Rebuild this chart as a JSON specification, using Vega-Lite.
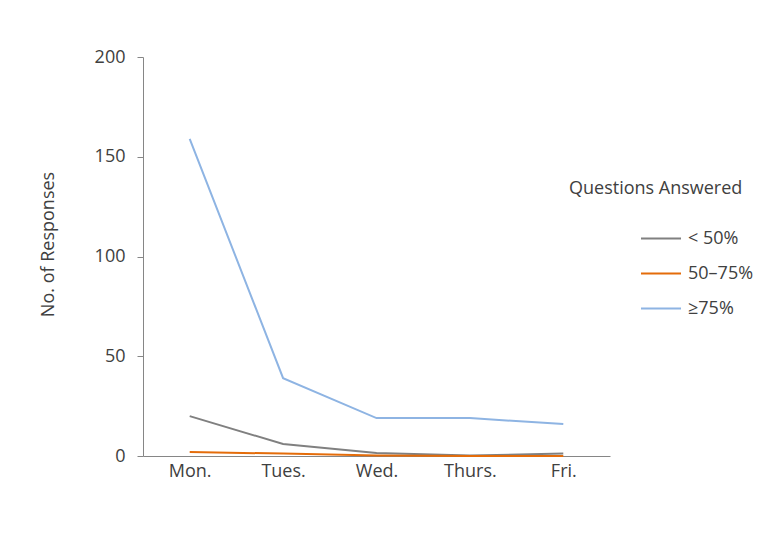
{
  "$schema": "https://vega.github.io/schema/vega-lite/v6.json",
  "width": 467,
  "height": 399,
  "autosize": "none",
  "padding": {"left": 143, "top": 57, "right": 154, "bottom": 77},
  "background": "white",
  "config": {
    "view": {"stroke": null},
    "font": "Open Sans"
  },
  "data": {
    "values": [
      {"day": "Mon.", "group": "< 50%", "count": 20},
      {"day": "Tues.", "group": "< 50%", "count": 6},
      {"day": "Wed.", "group": "< 50%", "count": 1.5},
      {"day": "Thurs.", "group": "< 50%", "count": 0.3},
      {"day": "Fri.", "group": "< 50%", "count": 1.2},
      {"day": "Mon.", "group": "50–75%", "count": 2},
      {"day": "Tues.", "group": "50–75%", "count": 1.2},
      {"day": "Wed.", "group": "50–75%", "count": 0.3},
      {"day": "Thurs.", "group": "50–75%", "count": 0},
      {"day": "Fri.", "group": "50–75%", "count": 0},
      {"day": "Mon.", "group": "≥75%", "count": 159},
      {"day": "Tues.", "group": "≥75%", "count": 39},
      {"day": "Wed.", "group": "≥75%", "count": 19},
      {"day": "Thurs.", "group": "≥75%", "count": 19},
      {"day": "Fri.", "group": "≥75%", "count": 16}
    ]
  },
  "mark": {"type": "line", "strokeWidth": 2},
  "encoding": {
    "x": {
      "field": "day",
      "type": "ordinal",
      "sort": ["Mon.", "Tues.", "Wed.", "Thurs.", "Fri."],
      "scale": {"type": "point", "padding": 0.5},
      "axis": {
        "title": null,
        "labelAngle": 0,
        "ticks": false,
        "labelPadding": 6,
        "labelFontSize": 18,
        "labelColor": "#404040",
        "domainColor": "#868686"
      }
    },
    "y": {
      "field": "count",
      "type": "quantitative",
      "scale": {"domain": [0, 200]},
      "axis": {
        "title": "No. of Responses",
        "values": [0, 50, 100, 150, 200],
        "grid": false,
        "tickSize": 6,
        "tickColor": "#868686",
        "domainColor": "#868686",
        "labelPadding": 12,
        "labelFontSize": 18,
        "labelColor": "#404040",
        "titleFontSize": 18,
        "titleFontWeight": "normal",
        "titleColor": "#404040",
        "titlePadding": 37,
        "titleY": 187
      }
    },
    "color": {
      "field": "group",
      "type": "nominal",
      "sort": ["< 50%", "50–75%", "≥75%"],
      "scale": {
        "domain": ["< 50%", "50–75%", "≥75%"],
        "range": ["#808080", "#E46C0A", "#8EB4E3"]
      },
      "legend": {
        "title": "Questions Answered",
        "orient": "none",
        "legendX": 426,
        "legendY": 123,
        "titleFontSize": 18,
        "titleFontWeight": "normal",
        "titleColor": "#404040",
        "titlePadding": 23,
        "labelFontSize": 18,
        "labelColor": "#404040",
        "symbolType": "stroke",
        "symbolSize": 1600,
        "symbolStrokeWidth": 2,
        "symbolOffset": 71,
        "labelOffset": 6,
        "clipHeight": 35,
        "rowPadding": 0
      }
    }
  }
}
